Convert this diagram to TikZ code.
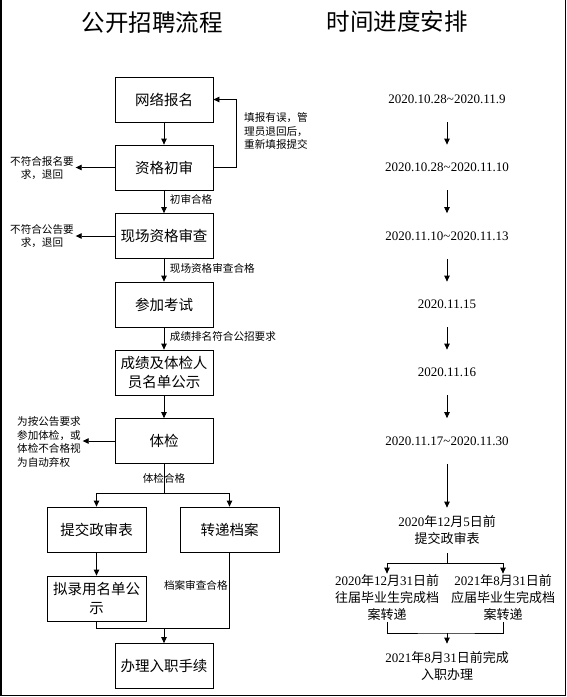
\documentclass[tikz,border=0pt]{standalone}
\usepackage{fontspec}
\setmainfont{Liberation Serif}
\newfontfamily\cjk{Noto Sans CJK SC}
\usetikzlibrary{arrows.meta}
\begin{document}
\begin{tikzpicture}[x=1pt,y=-1pt,
  line width=0.8pt,
  arr/.style={-{Triangle[length=6pt,width=5.5pt]}},
  box/.style={draw, minimum width=98pt, minimum height=45pt, inner sep=2pt, align=center, font=\cjk\fontsize{14.5}{19}\selectfont},
  lbl/.style={inner sep=1.5pt, align=center, font=\cjk\fontsize{10.6}{13.5}\selectfont},
  elbl/.style={lbl, right, xshift=4pt, yshift=2pt},
  date/.style={minimum height=45pt, inner sep=0pt, align=center, font=\fontsize{13}{17}\selectfont},
  ttl/.style={inner sep=0pt, font=\cjk\fontsize{23.5}{28}\selectfont}]
\useasboundingbox (0,0) rectangle (567,697);
\draw[line width=1.5pt] (1,0) -- (1,695.5) -- (565.5,695.5) -- (565.5,0);

% titles
\node[ttl] (t1) at (152,23) {公开招聘流程};
\node[ttl] (t2) at (397,22) {时间进度安排};

% left flow
\node[box] (b1) at (164,99.5) {网络报名};
\node[box] (b2) at (164,167.5) {资格初审};
\node[box] (b3) at (164,236) {现场资格审查};
\node[box] (b4) at (164,304.5) {参加考试};
\node[box] (b5) at (164,372.5) {成绩及体检人\\员名单公示};
\node[box] (b6) at (164,441) {体检};
\node[box, minimum width=99pt] (b7) at (96.5,529.5) {提交政审表};
\node[box, minimum width=99pt] (b8) at (229.5,529.5) {转递档案};
\node[box, minimum width=99pt] (b9) at (96.5,598.5) {拟录用名单公\\示};
\node[box] (b10) at (164,666) {办理入职手续};

% side labels
\node[lbl] (l1) at (42,168) {不符合报名要\\求，退回};
\node[lbl] (l2) at (42,236) {不符合公告要\\求，退回};
\node[lbl, align=left] (l3) at (49,442) {为按公告要求\\参加体检，或\\体检不合格视\\为自动弃权};
\node[lbl, align=left] (l4) at (276,131) {填报有误，管\\理员退回后，\\重新填报提交};

% left connectors
\draw[arr] (b1) -- (b2);
\draw[arr] (b2.east) -- ++(23,0) |- (b1.east);
\draw[arr] (b2.west) -- (b2.west -| l1.east);
\draw[arr] (b2) -- node[elbl] {初审合格} (b3);
\draw[arr] (b3.west) -- (b3.west -| l2.east);
\draw[arr] (b3) -- node[elbl] {现场资格审查合格} (b4);
\draw[arr] (b4) -- node[elbl] {成绩排名符合公招要求} (b5);
\draw[arr] (b5) -- (b6);
\draw[arr] (b6.west) -- (b6.west -| l3.east);
\coordinate (br) at (164,493);
\draw (b6.south) -- node[lbl] {体检合格} (br);
\draw[arr] (br) -| (b7.north);
\draw[arr] (br) -| (b8.north);
\draw[arr] (b7) -- (b9);
\coordinate (jn) at (164,628);
\draw (b8.south) -- node[lbl, left, yshift=5pt] {档案审查合格} (b8.south |- jn) -- (b9.south |- jn) -- (b9.south);
\draw[arr] (jn) -- (b10.north);

% right column
\node[date] (d1) at (447,99.5) {2020.10.28\textasciitilde2020.11.9};
\node[date] (d2) at (447,167.5) {2020.10.28\textasciitilde2020.11.10};
\node[date] (d3) at (447,236) {2020.11.10\textasciitilde2020.11.13};
\node[date] (d4) at (447,304.5) {2020.11.15};
\node[date] (d5) at (447,372.5) {2020.11.16};
\node[date] (d6) at (447,441) {2020.11.17\textasciitilde2020.11.30};
\node[date] (d7) at (447,530.5) {2020{\cjk 年}12{\cjk 月}5{\cjk 日前}\\{\cjk 提交政审表}};
\node[date, minimum height=48pt] (d8) at (387,598) {2020{\cjk 年}12{\cjk 月}31{\cjk 日前}\\{\cjk 往届毕业生完成档}\\{\cjk 案转递}};
\node[date, minimum height=48pt] (d9) at (503,598) {2021{\cjk 年}8{\cjk 月}31{\cjk 日前}\\{\cjk 应届毕业生完成档}\\{\cjk 案转递}};
\node[date] (d10) at (447,666.5) {2021{\cjk 年}8{\cjk 月}31{\cjk 日前完成}\\{\cjk 入职办理}};

\draw[arr] (d1) -- (d2);
\draw[arr] (d2) -- (d3);
\draw[arr] (d3) -- (d4);
\draw[arr] (d4) -- (d5);
\draw[arr] (d5) -- (d6);
\draw[arr] (d6) -- (d7);
\coordinate (rb) at (447,563);
\draw (d7.south) -- (rb);
\draw[arr] (rb) -| (d8.north);
\draw[arr] (rb) -| (d9.north);
\coordinate (rj) at (447,633);
\draw (d8.south) |- (rj) -| (d9.south);
\draw[arr] (rj) -- (d10.north);
\end{tikzpicture}
\end{document}
